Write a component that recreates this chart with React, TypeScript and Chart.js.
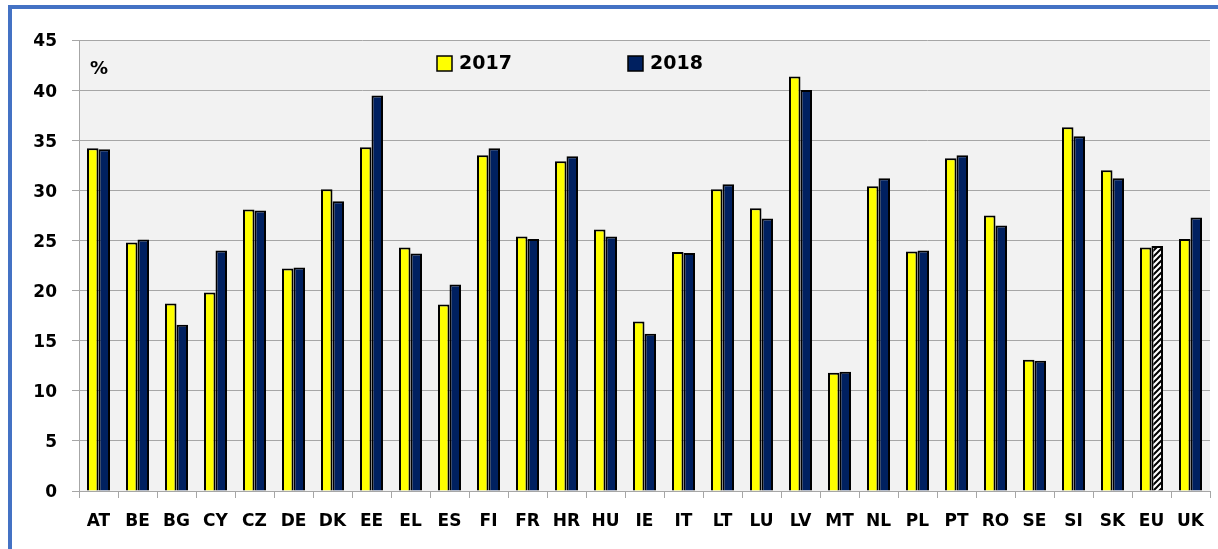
import React, { useEffect, useRef } from "react";
import { Chart, registerables } from "chart.js";

Chart.register(...registerables);

const categories = ["AT","BE","BG","CY","CZ","DE","DK","EE","EL","ES","FI","FR","HR","HU","IE","IT","LT","LU","LV","MT","NL","PL","PT","RO","SE","SI","SK","EU","UK"];
const values2017 = [34.2,24.8,18.7,19.8,28.1,22.2,30.1,34.3,24.3,18.6,33.5,25.4,32.9,26.1,16.9,23.85,30.1,28.2,41.35,11.8,30.4,23.9,33.2,27.5,13.1,36.3,32.0,24.3,25.15];
const values2018 = [34.1,25.1,16.6,24.0,28.0,22.3,28.9,39.45,23.7,20.6,34.2,25.15,33.4,25.4,15.7,23.75,30.6,27.2,40.0,11.9,31.2,24.0,33.5,26.5,13.0,35.4,31.2,24.45,27.3];
const seriesLabels = ["2017", "2018"];
const yMin = 0;
const yMax = 45;
const yStep = 5;
const unitLabel = "%";

const YELLOW = "#ffff00";
const NAVY = "#002060";
const FONT = "'DejaVu Sans', Verdana, sans-serif";

function makeHatch(): CanvasPattern | string {
  const c = document.createElement("canvas");
  c.width = 6;
  c.height = 6;
  const g = c.getContext("2d");
  if (!g) return "#ffffff";
  g.fillStyle = "#ffffff";
  g.fillRect(0, 0, 6, 6);
  g.strokeStyle = "#000000";
  g.lineWidth = 2;
  g.beginPath();
  g.moveTo(-1, 7); g.lineTo(7, -1);
  g.moveTo(-4, 4); g.lineTo(4, -4);
  g.moveTo(2, 10); g.lineTo(10, 2);
  g.stroke();
  const p = g.createPattern(c, "repeat");
  return p || "#ffffff";
}

const bgPlugin = {
  id: "plotBg",
  beforeDraw(chart: any) {
    const { ctx, chartArea } = chart;
    ctx.save();
    ctx.fillStyle = "#f2f2f2";
    ctx.fillRect(chartArea.left, chartArea.top, chartArea.right - chartArea.left, chartArea.bottom - chartArea.top);
    ctx.restore();
  },
};

const overlayPlugin = {
  id: "overlay",
  afterDraw(chart: any) {
    const { ctx } = chart;
    ctx.save();
    ctx.font = `bold 18px ${FONT}`;
    ctx.fillStyle = "#000";
    ctx.textBaseline = "middle";
    ctx.textAlign = "left";
    ctx.fillText(unitLabel, 90, 69);
    const items = [
      { x: 437, color: YELLOW, label: seriesLabels[0] },
      { x: 628, color: NAVY, label: seriesLabels[1] },
    ];
    ctx.font = `bold 19px ${FONT}`;
    items.forEach((it) => {
      ctx.fillStyle = it.color;
      ctx.fillRect(it.x, 56, 15, 15);
      ctx.strokeStyle = "#000";
      ctx.lineWidth = 1.5;
      ctx.strokeRect(it.x, 56, 15, 15);
      ctx.fillStyle = "#000";
      ctx.fillText(it.label, it.x + 22, 64);
    });
    ctx.restore();
  },
};

export default function App() {
  const ref = useRef<HTMLCanvasElement | null>(null);
  useEffect(() => {
    if (!ref.current) return;
    const hatch = makeHatch();
    const euIdx = categories.indexOf("EU");
    const bg2018 = categories.map((_, i) => (i === euIdx ? hatch : NAVY));
    const chart = new Chart(ref.current, {
      type: "bar",
      data: {
        labels: categories,
        datasets: [
          {
            label: seriesLabels[0],
            data: values2017,
            backgroundColor: YELLOW,
            borderColor: "#000",
            borderWidth: 2,
            barPercentage: 1,
            categoryPercentage: 0.59,
          },
          {
            label: seriesLabels[1],
            data: values2018,
            backgroundColor: bg2018 as any,
            borderColor: "#000",
            borderWidth: 2,
            barPercentage: 1,
            categoryPercentage: 0.59,
          },
        ],
      },
      options: {
        responsive: false,
        animation: false,
        devicePixelRatio: 1,
        layout: { padding: { top: 40, right: 8, left: 0, bottom: 0 } },
        plugins: {
          legend: { display: false },
          title: { display: false },
          tooltip: { enabled: false },
        },
        scales: {
          x: {
            afterFit: (s: any) => { s.height = 58; },
            grid: {
              offset: true,
              drawOnChartArea: false,
              drawTicks: true,
              tickLength: 7,
              color: "#a6a6a6",
            },
            border: { display: true, color: "#a6a6a6", width: 1 },
            ticks: {
              color: "#000",
              font: { family: FONT, size: 17, weight: "bold" },
              padding: 13,
              maxRotation: 0,
              autoSkip: false,
            },
          },
          y: {
            min: yMin,
            max: yMax,
            afterFit: (s: any) => { s.width = 79; },
            grid: {
              color: "#a6a6a6",
              tickLength: 7,
              lineWidth: 1,
            },
            border: { display: true, color: "#a6a6a6", width: 1 },
            ticks: {
              stepSize: yStep,
              color: "#000",
              font: { family: FONT, size: 17, weight: "bold" },
              padding: 15,
              labelOffset: 2,
            },
          },
        },
      },
      plugins: [bgPlugin, overlayPlugin],
    });
    return () => chart.destroy();
  }, []);

  return (
    <div style={{ position: "fixed", left: 0, top: 0, width: 1218, height: 549, background: "#fff", overflow: "hidden" }}>
      <div
        style={{
          position: "absolute",
          left: 8,
          top: 5,
          width: 1300,
          height: 600,
          borderTop: "4px solid #4472c4",
          borderLeft: "4px solid #4472c4",
        }}
      />
      <canvas ref={ref} width={1218} height={549} style={{ position: "absolute", left: 0, top: 0 }} />
    </div>
  );
}
